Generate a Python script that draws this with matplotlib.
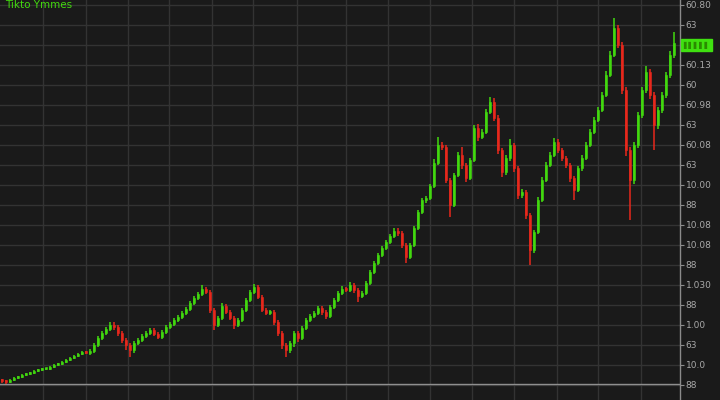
import matplotlib
matplotlib.use("Agg")
import matplotlib.pyplot as plt
import numpy as np

# ---- data (price units) ----
close_px = [381, 382, 380, 378, 377, 375, 374, 373, 371, 370,
            369, 369, 367, 365, 364, 362, 360, 358, 356, 354,
            352, 353, 351, 345, 338, 333, 329, 325, 327, 333,
            340, 345, 350, 343, 340, 336, 333, 330, 334, 337,
            332, 327, 324, 320, 317, 313, 309, 303, 298, 294,
            289, 292, 310, 325, 318, 306, 312, 318, 325, 320,
            310, 300, 292, 287, 297, 310, 313, 312, 322, 333,
            345, 350, 343, 333, 338, 328, 320, 316, 313, 308,
            312, 316, 307, 300, 293, 289, 290, 285, 290, 296,
            293, 283, 272, 263, 255, 248, 242, 236, 231, 233,
            245, 257, 245, 228, 212, 200, 198, 186, 163, 145,
            147, 180, 205, 175, 155, 165, 178, 160, 128, 137,
            132, 112, 102, 118, 150, 172, 158, 145, 168, 195,
            192, 215, 250, 232, 200, 180, 165, 155, 142, 150,
            158, 165, 178, 190, 168, 158, 145, 132, 120, 110,
            95, 75, 55, 28, 45, 90, 150, 180, 145, 115,
            90, 72, 95, 125, 110, 95, 75, 55, 43]
close = [400 - v for v in close_px]
up_wick = [1, 1, 1, 1, 1, 1, 1, 1, 1, 1,
           1, 1, 1, 1, 1, 1, 1, 1, 1, 1,
           1, 1, 2, 2, 2, 2, 2, 3, 3, 2,
           2, 2, 2, 2, 2, 2, 2, 2, 2, 2,
           2, 2, 2, 2, 2, 2, 2, 2, 2, 2,
           4, 2, 2, 2, 2, 3, 2, 2, 2, 2,
           2, 2, 2, 3, 2, 2, 2, 2, 2, 2,
           2, 2, 2, 2, 2, 2, 2, 2, 2, 2,
           2, 2, 2, 2, 2, 3, 2, 3, 2, 2,
           2, 2, 2, 2, 2, 2, 2, 2, 3, 3,
           2, 2, 2, 2, 2, 2, 2, 2, 4, 8,
           3, 2, 2, 2, 3, 8, 2, 2, 3, 4,
           3, 3, 5, 4, 3, 2, 3, 6, 2, 2,
           3, 2, 2, 2, 3, 3, 3, 3, 4, 3,
           2, 2, 2, 2, 2, 3, 3, 3, 3, 3,
           3, 4, 4, 10, 3, 3, 3, 3, 3, 3,
           3, 6, 3, 3, 3, 3, 3, 4, 11]
dn_wick = [2, 2, 1, 1, 1, 1, 1, 1, 1, 1,
           1, 1, 1, 1, 1, 1, 1, 1, 1, 1,
           1, 1, 2, 2, 2, 2, 2, 2, 3, 3,
           3, 5, 7, 3, 2, 2, 2, 2, 2, 2,
           2, 2, 2, 2, 2, 2, 2, 2, 2, 2,
           2, 2, 3, 5, 2, 2, 2, 2, 4, 2,
           2, 2, 2, 2, 2, 2, 2, 2, 3, 3,
           4, 7, 3, 4, 4, 2, 2, 2, 2, 2,
           3, 3, 2, 2, 2, 2, 2, 2, 3, 6,
           2, 2, 2, 2, 2, 2, 2, 2, 2, 3,
           3, 6, 2, 2, 2, 2, 3, 2, 2, 2,
           3, 3, 12, 2, 2, 4, 4, 2, 2, 4,
           2, 2, 2, 3, 4, 5, 3, 3, 4, 4,
           3, 4, 15, 3, 2, 2, 2, 2, 2, 3,
           3, 3, 4, 10, 2, 3, 2, 2, 2, 2,
           2, 2, 2, 2, 3, 4, 6, 40, 4, 3,
           3, 3, 4, 25, 4, 3, 3, 3, 3]
ytick_values = [395, 375, 355, 335, 315, 295, 275, 255, 235, 215,
                195, 175, 155, 135, 115, 95, 75, 55, 35, 15]
ytick_labels = ["60.80", "63", "", "60.13", "60", "60.98", "63", "60.08",
                "63", "10.00", "88", "10.08", "10.08", "88", "1.030",
                "88", "1.00", "63", "10.0", "88"]
xgrid_slots = [10.25, 21, 31.5, 41.75, 52.5, 62.75, 73.75, 86, 96.5,
               107, 117.5, 128, 138.75, 149, 159.75]
title_text = "Tikto Ymmes"
last_label = "▌▌▌▌▌"

BG = "#1a1a1a"
GREEN = "#42d90f"
RED = "#e8281c"
GRID = "#333333"

n = len(close)
opens = [close[0] + 1] + close[:-1]
idx = np.arange(n)
o = np.array(opens, float)
c = np.array(close, float)
hi = np.maximum(o, c) + np.array(up_wick[:n], float)
lo = np.minimum(o, c) - np.array(dn_wick[:n], float)
colors = [GREEN if cc >= oo else RED for oo, cc in zip(o, c)]

fig = plt.figure(figsize=(7.2, 4.0), dpi=100, facecolor=BG)
ax = fig.add_axes([0, 0, 680 / 720, 1.0])
ax.set_facecolor(BG)

ax.set_xlim(-0.5, n + 0.5)
ax.set_ylim(0, 400)

for v in ytick_values:
    ax.axhline(v, color=GRID, lw=1.0, zorder=0)
for xg in xgrid_slots:
    ax.axvline(xg, color=GRID, lw=1.0, zorder=0)
ax.axhline(16, color="#8f8f8f", lw=1.0, zorder=1)

ax.vlines(idx, lo, hi, colors=colors, lw=1.1, zorder=2)
body_h = np.maximum(np.abs(c - o), 2.0)
body_b = np.minimum(o, c)
ax.bar(idx, body_h, bottom=body_b, width=0.6, color=colors, edgecolor=colors,
       lw=0.4, zorder=3)

for s in ["top", "left", "bottom"]:
    ax.spines[s].set_visible(False)
ax.spines["right"].set_color("#8a8a8a")
ax.spines["right"].set_linewidth(1.0)
ax.yaxis.tick_right()
ax.set_yticks(ytick_values)
ax.set_yticklabels(ytick_labels)
ax.tick_params(axis="y", colors="#8a8a8a", labelcolor="#a8a8a8", labelsize=6.5,
               length=3, width=0.8, pad=1)
ax.set_xticks([])

ax.text(0.008, 0.999, title_text, transform=ax.transAxes, color=GREEN,
        fontsize=7.5, va="top", ha="left", clip_on=False)

# last price box
ax.annotate(last_label, xy=(1.0, 355 / 400), xycoords="axes fraction",
            xytext=(2.5, 0), textcoords="offset points", va="center", ha="left",
            fontsize=5, color="#2a8a00",
            bbox=dict(boxstyle="square,pad=0.3", fc="#3fe010", ec="#3fe010"))

fig.savefig("out.png", dpi=100, facecolor=BG)
